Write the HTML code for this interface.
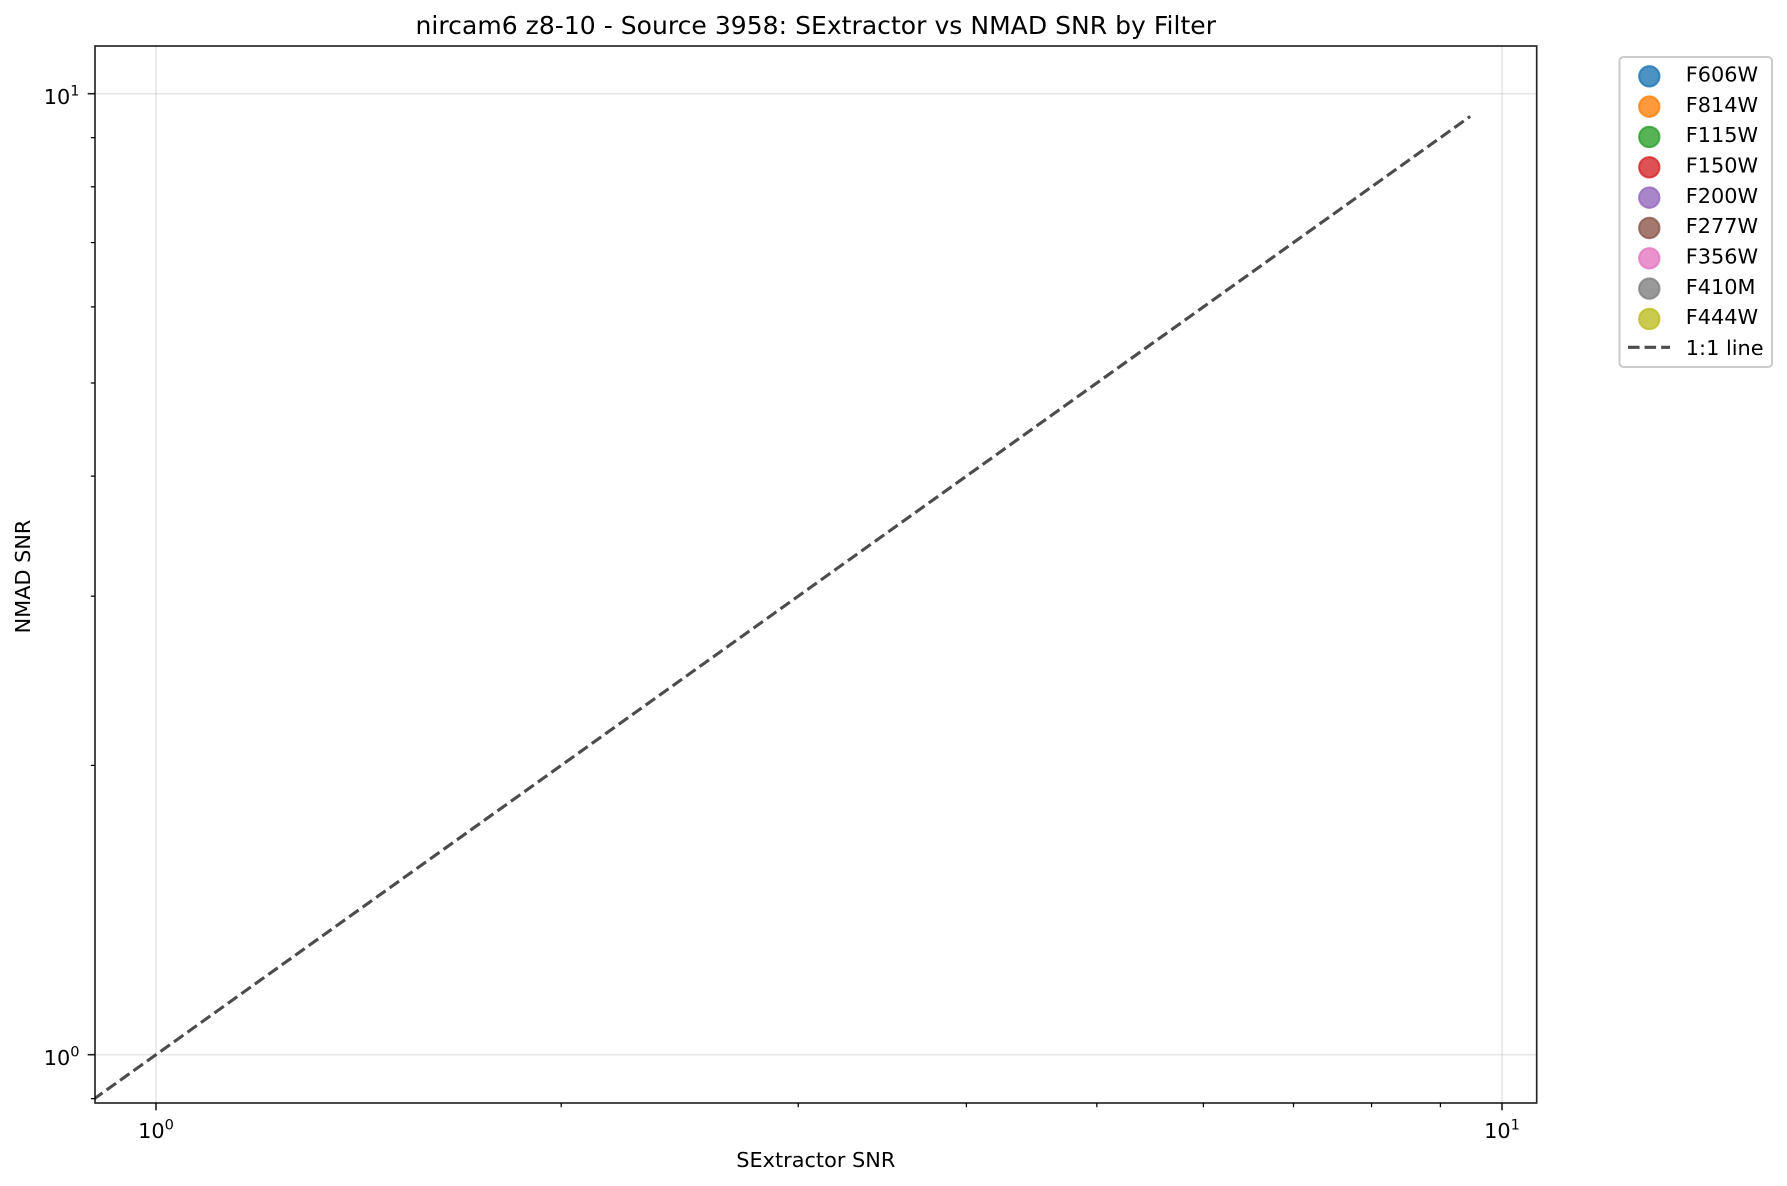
<!DOCTYPE html>
<html>
<head>
<meta charset="utf-8">
<title>nircam6 z8-10 - Source 3958</title>
<style>
  html, body { margin: 0; padding: 0; background: #fff; }
  svg { display: block; }
  text { font-family: "DejaVu Sans", "Liberation Sans", sans-serif; fill: #000; }
</style>
</head>
<body>
<svg id="chart" xmlns="http://www.w3.org/2000/svg" width="1787" height="1186" viewBox="0 0 1787 1186">
  <rect x="0" y="0" width="1787" height="1186" fill="#ffffff"/>
  <defs>
    <clipPath id="plot-clip"><rect x="95" y="46" width="1442" height="1057"/></clipPath>
  </defs>
  <g id="grid"></g>
  <g id="series" clip-path="url(#plot-clip)"></g>
  <rect x="95" y="46" width="1441.7" height="1057" fill="none" stroke="#000" stroke-width="1.67" opacity="0.85"/>
  <g id="ticks"></g>
  <text x="815.8" y="34" font-size="25" letter-spacing="0.04" text-anchor="middle">nircam6 z8-10 - Source 3958: SExtractor vs NMAD SNR by Filter</text>
  <text x="815.8" y="1167" font-size="20.83" text-anchor="middle">SExtractor SNR</text>
  <text transform="translate(30 576.5) rotate(-90)" font-size="20.83" text-anchor="middle">NMAD SNR</text>
  <g id="legend">
    <rect x="1619.5" y="57" width="152.5" height="310" rx="4" ry="4" fill="#fff" fill-opacity="0.8" stroke="#cccccc" stroke-width="2.08"/>
  </g>
</svg>
<script>
// Chart data
const filterNames = ['F606W', 'F814W', 'F115W', 'F150W', 'F200W', 'F277W', 'F356W', 'F410M', 'F444W'];
const filterColors = ['#1f77b4', '#ff7f0e', '#2ca02c', '#d62728', '#9467bd', '#8c564b', '#e377c2', '#7f7f7f', '#bcbd22'];
const sextractorSnr = [];
const nmadSnr = [];
const oneToOneX = [0.898, 9.47];
const oneToOneY = [0.898, 9.47];
const majorTicks = [1, 10];
const majorExponents = ['0', '1'];
const xMinorTicks = [2, 3, 4, 5, 6, 7, 8, 9];
const yMinorTicks = [0.9, 2, 3, 4, 5, 6, 7, 8, 9];

// Axis functions
function xScale(v) { return 156 + Math.log10(v) * 1346; }
function yScale(v) { return 1054.7 - Math.log10(v) * 961; }

const NS = 'http://www.w3.org/2000/svg';
const gridG = document.getElementById('grid');
const seriesG = document.getElementById('series');
const ticksG = document.getElementById('ticks');
const legendG = document.getElementById('legend');

function make(tag, parent, attrs) {
  const el = document.createElementNS(NS, tag);
  for (const k in attrs) el.setAttribute(k, attrs[k]);
  parent.appendChild(el);
  return el;
}

function powerLabel(parent, x, y, anchor, exp) {
  const t = make('text', parent, { x: x, y: y, 'font-size': 20.83, 'text-anchor': anchor });
  const base = document.createElementNS(NS, 'tspan');
  base.textContent = '10';
  t.appendChild(base);
  const sup = document.createElementNS(NS, 'tspan');
  sup.setAttribute('dy', '-8.6');
  sup.setAttribute('font-size', '14.6');
  sup.textContent = exp;
  t.appendChild(sup);
  return t;
}

majorTicks.forEach(function (v, i) {
  const gx = make('line', gridG, { x1: xScale(v), x2: xScale(v), y1: 46, y2: 1103, stroke: '#b0b0b0', 'stroke-opacity': 0.3, 'stroke-width': 1.67 });
  
  
  const gy = make('line', gridG, { x1: 95, x2: 1536.7, y1: yScale(v), y2: yScale(v), stroke: '#b0b0b0', 'stroke-opacity': 0.3, 'stroke-width': 1.67 });
  
  

  const tx = make('line', ticksG, { x1: xScale(v), x2: xScale(v), y1: 1103, y2: 1110.3, stroke: '#000', 'stroke-width': 1.67, opacity: 0.85 });
  
  
  const ty = make('line', ticksG, { x1: 87.7, x2: 95, y1: yScale(v), y2: yScale(v), stroke: '#000', 'stroke-width': 1.67, opacity: 0.85 });
  
  

  const lx = powerLabel(ticksG, xScale(v), 1138, 'middle', majorExponents[i]);
  
  
  const ly = powerLabel(ticksG, 79.5, yScale(v) + 10.5, 'end', majorExponents[i]);
  
  
});

xMinorTicks.forEach(function (v) {
  const t = make('line', ticksG, { x1: xScale(v), x2: xScale(v), y1: 1103, y2: 1107.2, stroke: '#000', 'stroke-width': 1.25 });
  
  
});

yMinorTicks.forEach(function (v) {
  const t = make('line', ticksG, { x1: 90.8, x2: 95, y1: yScale(v), y2: yScale(v), stroke: '#000', 'stroke-width': 1.25 });
  
  
});

// Scatter points (this source has no plotted measurements)
sextractorSnr.forEach(function (v, i) {
  const p = make('circle', seriesG, { cx: xScale(v), cy: yScale(nmadSnr[i]), r: 10.4, fill: filterColors[i % filterColors.length], 'fill-opacity': 0.8 });
  
  
});

// 1:1 reference line
const refLine = make('line', seriesG, {
  x1: xScale(oneToOneX[0]), y1: yScale(oneToOneY[0]),
  x2: xScale(oneToOneX[1]), y2: yScale(oneToOneY[1]),
  stroke: '#000', 'stroke-opacity': 0.7, 'stroke-width': 3.125, 'stroke-dasharray': '11.56 5'
});



// Legend
filterNames.forEach(function (name, i) {
  const cy = 76.3 + i * 30.33;
  const m = make('circle', legendG, { cx: 1649.3, cy: cy, r: 10.2, fill: filterColors[i], 'fill-opacity': 0.8, stroke: filterColors[i], 'stroke-opacity': 0.8, 'stroke-width': 2 });
  
  
  const t = make('text', legendG, { x: 1685.8, y: cy + 5.2, 'font-size': 20.83 });
  t.textContent = name;
  
  
});

const legLine = make('line', legendG, { x1: 1628, x2: 1670, y1: 347.3, y2: 347.3, stroke: '#000', 'stroke-opacity': 0.7, 'stroke-width': 3.125, 'stroke-dasharray': '11.56 5' });


const legText = make('text', legendG, { x: 1685.8, y: 355, 'font-size': 20.83 });
legText.textContent = '1:1 line';


</script>
</body>
</html>
